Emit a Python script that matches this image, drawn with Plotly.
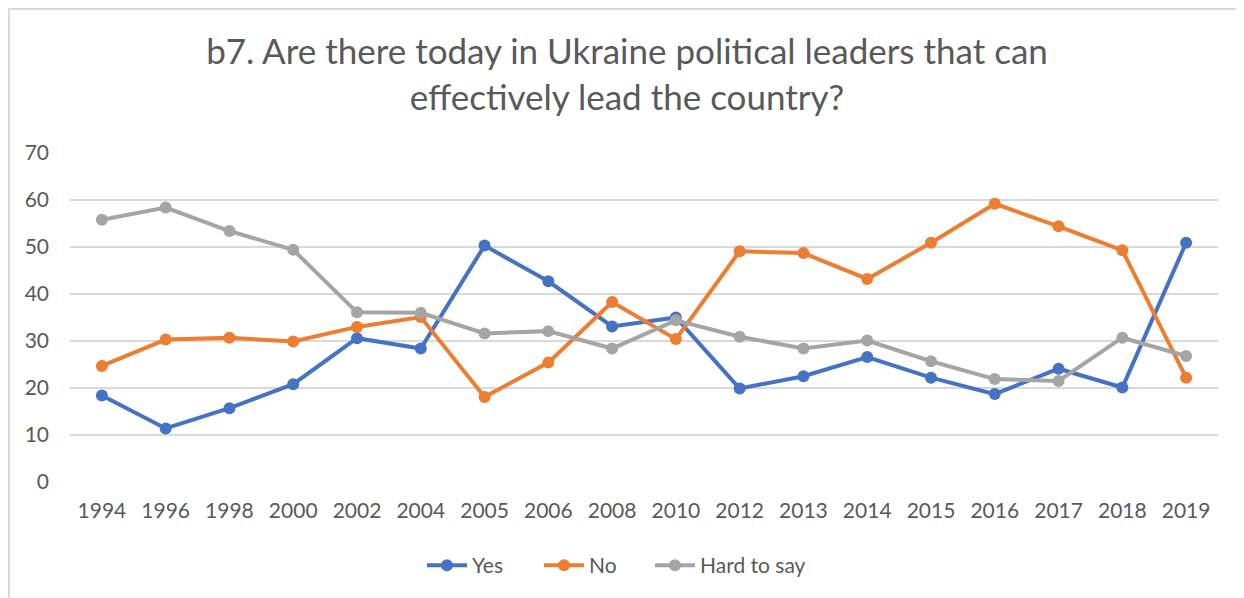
import plotly.graph_objects as go

years = ["1994", "1996", "1998", "2000", "2002", "2004", "2005", "2006", "2008",
         "2010", "2012", "2013", "2014", "2015", "2016", "2017", "2018", "2019"]
yes = [18.4, 11.4, 15.7, 20.8, 30.6, 28.4, 50.3, 42.7, 33.1, 35.0,
       19.9, 22.5, 26.6, 22.2, 18.7, 24.1, 20.1, 50.9]
no = [24.7, 30.3, 30.7, 29.9, 33.0, 35.1, 18.1, 25.4, 38.3, 30.4,
      49.1, 48.7, 43.2, 50.9, 59.2, 54.4, 49.3, 22.2]
hard = [55.8, 58.4, 53.4, 49.4, 36.1, 36.0, 31.6, 32.1, 28.4, 34.4,
        30.9, 28.4, 30.1, 25.7, 21.9, 21.5, 30.7, 26.8]
y_ticks = [0, 10, 20, 30, 40, 50, 60, 70]

FONT = "Lato, 'Open Sans', sans-serif"
TXT = "#595959"

W, H = 1244, 598
L, R, T, B = 62, 34, 145, 124
PW, PH = W - L - R, H - T - B

series = [("Yes", yes, "#4472C4", "legend", 432),
          ("No", no, "#ED7D31", "legend2", 549),
          ("Hard to say", hard, "#A5A5A5", "legend3", 660)]

fig = go.Figure()
legends = {}
for name, vals, col, lg, sx in series:
    fig.add_trace(go.Scatter(
        x=years, y=vals, name=name, mode="lines+markers",
        line=dict(color=col, width=4),
        marker=dict(color=col, size=12),
        legend=lg,
    ))
    legends[lg] = dict(orientation="h", x=(sx - 8 - 10 - L) / PW, xanchor="left",
                       y=-63 / PH, yanchor="top", bgcolor="rgba(0,0,0,0)",
                       font=dict(size=21, color=TXT), itemwidth=40)

fig.update_layout(
    width=W, height=H,
    paper_bgcolor="white", plot_bgcolor="white",
    margin=dict(l=L, r=R, t=T, b=B),
    font=dict(family=FONT, color=TXT, size=21),
    title=dict(
        text="b7. Are there today in Ukraine political leaders that can<br>effectively lead the country?",
        x=619 / W, xanchor="center", y=1 - 56 / H, yanchor="top",
        font=dict(size=35, color=TXT, family=FONT),
    ),
    showlegend=True,
    xaxis=dict(type="category", showgrid=False, showline=False, ticks="",
               range=[-0.5, 17.5], ticklabelstandoff=14,
               tickfont=dict(size=21, color=TXT)),
    yaxis=dict(range=[0, 70], tickvals=y_ticks, showgrid=True, gridcolor="#D9D9D9",
               gridwidth=1.5, zeroline=False, showline=False, ticks="",
               ticklabelstandoff=20, tickfont=dict(size=21, color=TXT)),
    shapes=[dict(type="rect", xref="paper", yref="paper",
                 x0=-(L - 1) / PW, x1=1 + (R + 10) / PW,
                 y0=-(B + 10) / PH, y1=1 + (T - 1) / PH,
                 line=dict(color="#D9D9D9", width=2))],
    **legends,
)

fig.write_html("out.html")
